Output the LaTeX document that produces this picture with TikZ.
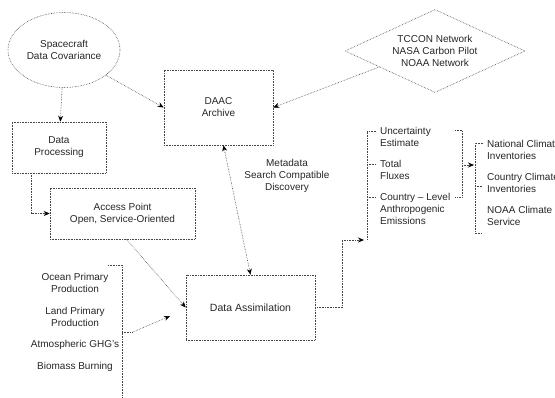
\documentclass[tikz,border=0pt]{standalone}
\usepackage{fontspec}
\setmainfont{Liberation Sans}
\usetikzlibrary{shapes.geometric,arrows.meta}
\tikzset{
  conn/.style={densely dotted, gray!55!black, line width=0.6pt},
  arr/.style={conn, -{Stealth[black,length=6pt,width=5pt]}},
  dblarr/.style={conn, {Stealth[black,length=6pt,width=5pt]}-{Stealth[black,length=6pt,width=5pt]}},
  box/.style={draw, conn, text=black!85, align=center, inner sep=0pt},
  txt/.style={text=black!85, inner sep=0pt},
}
\begin{document}
\begin{tikzpicture}[x=1pt,y=-1pt,font=\fontsize{10}{12}\selectfont]
\useasboundingbox (0,0) rectangle (555,398);

% sources and stores
\node[box, ellipse, minimum width=112, minimum height=75] (sdc) at (64,50) {Spacecraft\\Data Covariance};
\node[box, diamond, aspect=2.2, minimum width=180, minimum height=83] (tnet) at (435,51) {TCCON Network\\NASA Carbon Pilot\\NOAA Network};
\node[box, minimum width=94, minimum height=51] (dataproc) at (59,147.5) {Data\\Processing};
\node[box, minimum width=109, minimum height=75] (daac) at (218.5,107.5) {DAAC\\Archive};
\node[box, minimum width=145, minimum height=51] (access) at (122.5,213.5) {Access Point\\Open, Service-Oriented};
\node[box, minimum width=129, minimum height=65, font=\fontsize{10.5}{12}\selectfont] (dataassim) at (250.5,307.5) {Data Assimilation};
\node[txt, align=center] (meta) at (287,176) {Metadata\\Search Compatible\\Discovery};

% inputs
\node[txt, align=center] (ocean) at (75,282.5) {Ocean Primary\\Production};
\node[txt, align=center] (land) at (75,317) {Land Primary\\Production};
\node[txt] (atmo) at (75,345) {Atmospheric GHG's};
\node[txt] (bio) at (75,367) {Biomass Burning};

% outputs
\node[txt, align=left, anchor=west] (unc) at (380,137) {Uncertainty\\Estimate};
\node[txt, align=left, anchor=west] (flux) at (380,170) {Total\\Fluxes};
\node[txt, align=left, anchor=west] (emis) at (380,208.5) {Country -- Level\\Anthropogenic\\Emissions};
\node[txt, align=left, anchor=west] (nci) at (487,150) {National Climate\\Inventories};
\node[txt, align=left, anchor=west] (cci) at (487,183) {Country Climate\\Inventories};
\node[txt, align=left, anchor=west] (ncs) at (487,215.5) {NOAA Climate\\Service};

% bracket points
\coordinate (lbtick) at (133,332);
\coordinate (lbtip) at (170,316);
\coordinate (obend) at (364,240);
\coordinate (rbmid) at (462,165);
\coordinate (nbmid) at (474,165);

% brackets
\draw[conn] (108,265) -- (122,265) -- (122,398);
\draw[conn] (122,332) -- (lbtick);
\draw[conn] (376,131) -- (367,131) -- (367,240);
\draw[conn] (367,164) -- (376,164);
\draw[conn] (367,197) -- (376,197);
\draw[conn] (455,130) -- (462,130) -- (462,197) -- (455,197);
\draw[conn] (483,143) -- (475,143) -- (475,233) -- (482,233);
\draw[conn] (475,186) -- (482,186);

% connectors
\draw[arr] (sdc) -- (dataproc);
\draw[arr] (sdc.-31) -- (daac.west);
\draw[arr] (tnet.196) -- (daac.east);
\draw[arr] ([xshift=20]dataproc.south west) |- (access.west);
\draw[arr] ([xshift=4]access.south) -- (dataassim.west);
\draw[dblarr] ([xshift=5]daac.south) -- (dataassim.north);
\draw[arr] (lbtick) -- (lbtip);
\draw[arr] (dataassim.east) -- ++(27,0) |- (obend);
\draw[arr] (rbmid) -- (nbmid);
\end{tikzpicture}
\end{document}
